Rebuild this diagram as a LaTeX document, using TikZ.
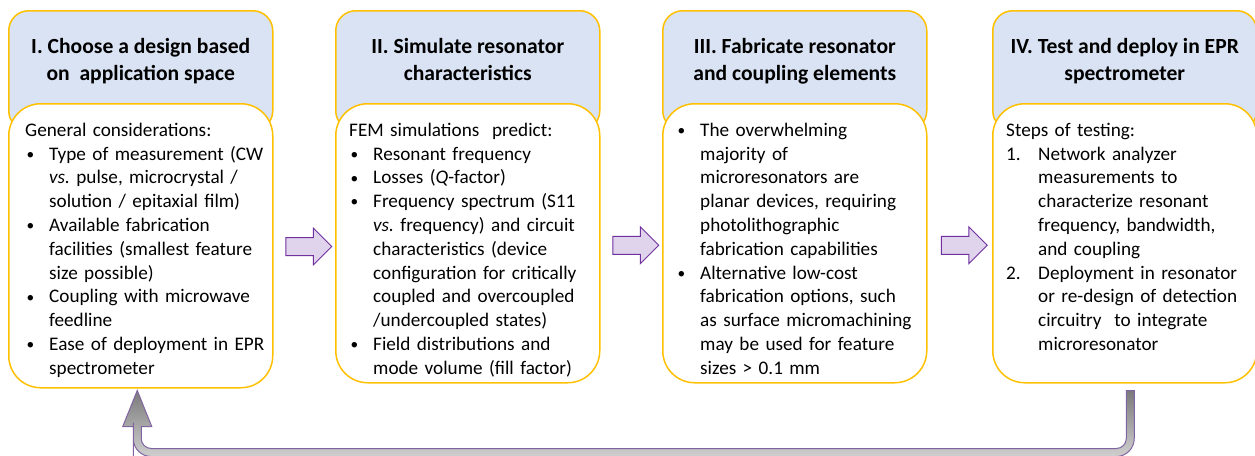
\documentclass[tikz,border=0pt]{standalone}
\usepackage{fontspec}
\setmainfont{Carlito}
\usetikzlibrary{shapes.arrows, positioning, calc}

\definecolor{headblue}{HTML}{DAE3F3}
\definecolor{boxgold}{HTML}{FFC000}
\definecolor{arrowpurple}{HTML}{7030A0}
\definecolor{arrowfill}{HTML}{E0D4EC}
\definecolor{loopline}{HTML}{8064A2}
\definecolor{loopdark}{HTML}{7A7A7A}
\definecolor{looplight}{HTML}{CFCFCF}

% list items inside the boxes
\newcommand{\intro}[1]{\noindent\rule{0pt}{14pt}#1}
\newcommand{\dotmark}{\makebox[24pt][l]{\rule{0pt}{14pt}\hspace{1.5pt}%
    \raisebox{0.8pt}{\scalebox{0.8}{\textbullet}}}}
\newcommand{\firstbul}{\hangindent=24pt\hangafter=1\noindent\dotmark}
\newcommand{\bul}{\par\firstbul}
\newcommand{\stepitem}[1]{\par\hangindent=32pt\hangafter=1\noindent%
  \makebox[32pt][l]{\rule{0pt}{14pt}#1}}

\tikzset{
  head/.style={draw=boxgold, fill=headblue, line width=1.5pt,
    rounded corners=20pt, minimum width=264pt, minimum height=120pt,
    anchor=north west, inner sep=0pt},
  title/.style={font=\fontsize{21.6}{27}\selectfont\bfseries,
    align=center, inner sep=0pt},
  body/.style={draw=boxgold, fill=white, line width=1.5pt,
    rounded corners=32pt, minimum width=264pt, inner sep=0pt},
  bodytext/.style={font=\fontsize{19.2}{23.8}\selectfont,
    text width=248pt, align=left, inner sep=0pt},
  blockarrow/.style={single arrow, draw=arrowpurple, fill=arrowfill,
    line width=1pt, minimum height=46pt, minimum width=0pt,
    single arrow head extend=9.5pt, inner xsep=0pt, inner ysep=8.5pt,
    yshift=-2pt},
  backarrow/.style={draw=loopline, line width=1pt, top color=loopdark,
    bottom color=looplight},
}

\begin{document}
\begin{tikzpicture}[x=1pt, y=-1pt]
  \useasboundingbox (0,0) rectangle (1255,455);

  % I. Design
  \node [head] (head1) at (8,10) {};%
  \node [title, below=28pt of head1.north] (title1)
  {I. Choose a design based\\on~ application space};%
  \node [body, minimum height=284pt, below=93pt of head1.north] (body1) {};%
  \node [bodytext, below right=19pt and 17pt of body1.north west] (list1)
  {\intro{General considerations:}
    \bul Type of measurement (CW\newline \emph{vs.}\ pulse, microcrystal
    /\newline solution / epitaxial film)
    \bul Available fabrication\newline facilities (smallest
    feature\newline size possible)
    \bul Coupling with microwave\newline feedline
    \bul Ease of deployment in EPR\newline spectrometer\par};%

  % II. Simulation
  \node [head] (head2) at (335,10) {};%
  \node [title, below=28pt of head2.north] (title2)
  {II. Simulate resonator\\characteristics};%
  \node [body, minimum height=279pt, below=93pt of head2.north] (body2) {};%
  \node [bodytext, below right=19pt and 14pt of body2.north west] (list2)
  {\intro{FEM simulations~ predict:}
    \bul Resonant frequency
    \bul Losses (\emph{Q}-factor)
    \bul Frequency spectrum (S11\newline \emph{vs.}\ frequency) and
    circuit\newline characteristics (device\newline configuration for
    critically\newline coupled and overcoupled\newline /undercoupled
    states)
    \bul Field distributions and\newline mode volume (fill factor)\par};%

  % III. Fabrication
  \node [head] (head3) at (662,10) {};%
  \node [title, below=28pt of head3.north] (title3)
  {III. Fabricate resonator\\and coupling elements};%
  \node [body, minimum height=279pt, below=93pt of head3.north] (body3) {};%
  \node [bodytext, below right=19pt and 14pt of body3.north west] (list3)
  {\firstbul The overwhelming\newline majority of\newline microresonators
    are\newline planar devices, requiring\newline
    photolithographic\newline fabrication capabilities
    \bul Alternative low-cost\newline fabrication options,
    such\newline as surface micromachining\newline may be used for
    feature\newline sizes > 0.1 mm\par};%

  % IV. Test and deploy
  \node [head] (head4) at (992,10) {};%
  \node [title, below=28pt of head4.north] (title4)
  {IV. Test and deploy in EPR\\spectrometer};%
  \node [body, minimum height=279pt, below=93pt of head4.north] (body4) {};%
  \node [bodytext, below right=19pt and 14pt of body4.north west] (list4)
  {\intro{Steps of testing:}
    \stepitem{1.}Network analyzer\newline measurements to\newline
    characterize resonant\newline frequency, bandwidth,\newline and
    coupling
    \stepitem{2.}Deployment in resonator\newline or re-design of
    detection\newline circuitry~ to integrate\newline microresonator\par};%

  % arrows between the steps
  \node [blockarrow] (arr12) at ($(body1.east)!0.5!(body2.west)$) {};%
  \node [blockarrow] (arr23) at ($(body2.east)!0.5!(body3.west)$) {};%
  \node [blockarrow] (arr34) at ($(body3.east)!0.5!(body4.west)$) {};%

  % feedback from IV back to I
  \coordinate (loopstart) at ([xshift=5.5pt, yshift=-7pt]body4.south);
  \coordinate (loopend) at ([xshift=-3.5pt, yshift=-2pt]body1.south);
  \draw [backarrow] let \p1=(loopstart), \p2=(loopend) in
  (\x1-4pt,\y1) -- (\x1+4pt,\y1) -- (\x1+4pt,\y1-30pt)
  [rounded corners=18pt] -- (\x1+4pt,\y2-66pt) -- (\x2-4pt,\y2-66pt)
  -- (\x2-4pt,\y2-50pt) [sharp corners] -- (\x2-4pt,\y2-36pt)
  -- (\x2-14.5pt,\y2-36pt) -- (\x2,\y2) -- (\x2+14.5pt,\y2-36pt)
  -- (\x2+4pt,\y2-36pt) -- (\x2+4pt,\y2-47pt) [rounded corners=10pt]
  -- (\x2+4pt,\y2-58pt) -- (\x1-4pt,\y2-58pt) -- (\x1-4pt,\y1-30pt)
  [sharp corners] -- cycle;
\end{tikzpicture}
\end{document}
